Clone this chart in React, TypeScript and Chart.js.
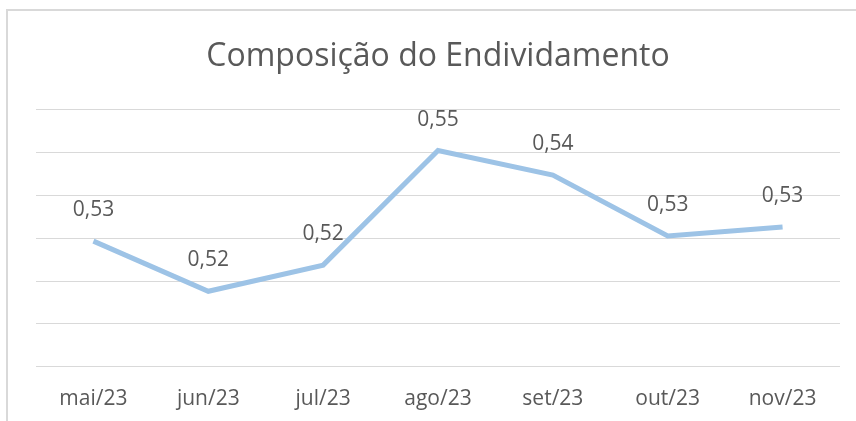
import React, { useEffect, useRef } from "react";
import { Chart, registerables } from "chart.js";

Chart.register(...registerables);

const categories = ["mai/23", "jun/23", "jul/23", "ago/23", "set/23", "out/23", "nov/23"];
const values = [0.5293, 0.5176, 0.5237, 0.5504, 0.5447, 0.5305, 0.5326];
const yMin = 0.5;
const yMax = 0.56;
const yStep = 0.01;
const title = "Composição do Endividamento";

const FONT = '"Open Sans", sans-serif';
const TEXT = "#595959";

const valueLabels = {
  id: "valueLabels",
  afterDatasetsDraw(chart: any) {
    const ctx = chart.ctx;
    const meta = chart.getDatasetMeta(0);
    ctx.save();
    ctx.font = `21px ${FONT}`;
    ctx.fillStyle = TEXT;
    ctx.textAlign = "center";
    ctx.textBaseline = "middle";
    meta.data.forEach((pt: any, i: number) => {
      const v = chart.data.datasets[0].data[i] as number;
      ctx.fillText(v.toFixed(2).replace(".", ","), pt.x, pt.y - 31);
    });
    ctx.restore();
  },
};

export default function App() {
  const ref = useRef<HTMLCanvasElement>(null);
  useEffect(() => {
    document.body.style.margin = "0";
    const chart = new Chart(ref.current!, {
      type: "line",
      data: {
        labels: categories,
        datasets: [
          {
            data: values,
            borderColor: "#9DC3E6",
            borderWidth: 5,
            pointRadius: 0,
            tension: 0,
            fill: false,
          },
        ],
      },
      options: {
        animation: false,
        responsive: false,
        layout: { padding: { left: 36, right: 16, top: 0, bottom: -11 } },
        plugins: {
          legend: { display: false },
          tooltip: { enabled: false },
          title: {
            display: true,
            text: title,
            color: TEXT,
            font: { family: FONT, size: 32, weight: "normal" },
            padding: { top: 38, bottom: 33 },
          },
        },
        scales: {
          x: {
            offset: true,
            grid: { display: false, drawTicks: false },
            border: { display: false },
            ticks: { color: TEXT, font: { family: FONT, size: 21 }, padding: 20, maxRotation: 0 },
          },
          y: {
            min: yMin,
            max: yMax,
            ticks: { display: false, stepSize: yStep },
            grid: { color: "#D9D9D9", lineWidth: 1, drawTicks: false },
            border: { display: false },
          },
        },
      },
      plugins: [valueLabels],
    });
    return () => chart.destroy();
  }, []);
  return (
    <div style={{ position: "relative", width: 856, height: 421, background: "#fff" }}>
      <canvas ref={ref} width={856} height={421} style={{ display: "block" }} />
      <div
        style={{
          position: "absolute",
          left: 6,
          top: 9,
          width: 900,
          height: 500,
          borderLeft: "2px solid #D9D9D9",
          borderTop: "2px solid #D9D9D9",
          pointerEvents: "none",
        }}
      />
    </div>
  );
}
